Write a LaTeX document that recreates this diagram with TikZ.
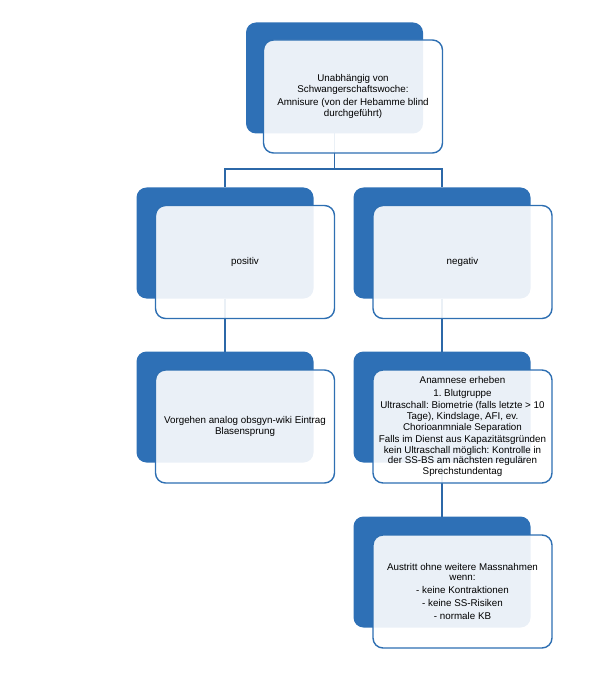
\documentclass[tikz,border=0pt]{standalone}
\usepackage{fontspec}
\setmainfont{Liberation Sans}
\frenchspacing
\definecolor{darkblue}{RGB}{46,112,182}
\definecolor{edgeblue}{RGB}{46,111,178}
\definecolor{linkblue}{RGB}{44,104,168}
\begin{document}
\begin{tikzpicture}[x=1pt,y=-1pt,
  darkbox/.style={fill=darkblue, draw=none, rounded corners=10pt, minimum width=177pt, minimum height=111pt, inner sep=0pt, outer sep=0pt},
  lightbox/.style={fill=white, fill opacity=0.9, text opacity=1, draw=edgeblue, line width=1.4pt, rounded corners=10pt, minimum width=179pt, minimum height=113pt, inner sep=0pt, outer sep=0pt, align=center, font=\fontsize{9.8}{10.6}\selectfont},
  link/.style={draw=linkblue, line width=1.5pt}]
\useasboundingbox (0,0) rectangle (599,676);
% dark boxes
\node[darkbox] (d1) at (334.5,78) {};
\node[darkbox] (d2) at (225,243) {};
\node[darkbox] (d3) at (442,243) {};
\node[darkbox] (d4) at (225,407) {};
\node[darkbox] (d5) at (442,407) {};
\node[darkbox] (d6) at (442,572) {};
% connectors
\draw[link] (d1.south) -- (334.5,169) -| (d2.north);
\draw[link] (d1.south) -- (334.5,169) -| (d3.north);
\draw[link] (d2.south) -- (d4.north);
\draw[link] (d3.south) -- (d5.north);
\draw[link] (d5.south) -- (d6.north);
% light boxes
\node[lightbox] (l1) at (353,96.5) {Unabhängig von\\Schwangerschaftswoche:\\[2.4pt]Amnisure (von der Hebamme blind\\durchgeführt)};
\node[lightbox] (l2) at (245,262) {positiv};
\node[lightbox] (l3) at (462.5,262) {negativ};
\node[lightbox] (l4) at (245,426.5) {Vorgehen analog obsgyn-wiki Eintrag\\Blasensprung};
\node[lightbox] (l5) at (462.5,426.5) {Anamnese erheben\\[2pt]1. Blutgruppe\\[2pt]Ultraschall: Biometrie (falls letzte > 10\\Tage), Kindslage, AFI, ev.\\Chorioanmniale Separation\\[2pt]Falls im Dienst aus Kapazitätsgründen\\kein Ultraschall möglich: Kontrolle in\\der SS-BS am nächsten regulären\\Sprechstundentag};
\node[lightbox] (l6) at (462.5,591.5) {Austritt ohne weitere Massnahmen\\wenn:\\[2.4pt]- keine Kontraktionen\\[2.4pt]- keine SS-Risiken\\[2.4pt]- normale KB};
\end{tikzpicture}
\end{document}
